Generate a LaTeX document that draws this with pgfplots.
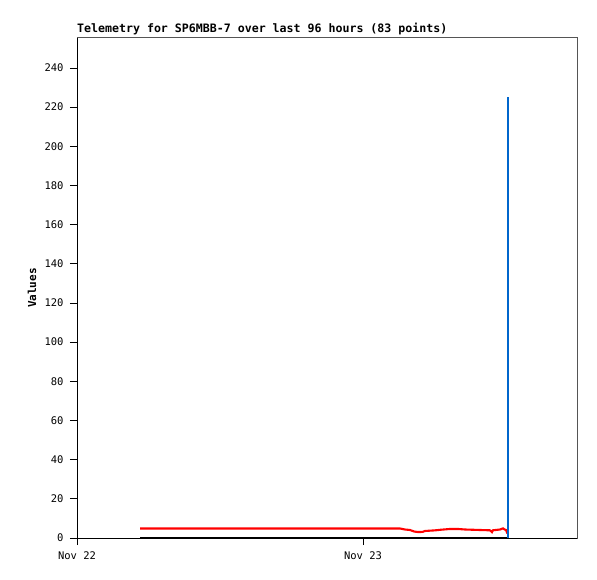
\documentclass[border=0pt]{standalone}
\usepackage{fontspec}
\setmainfont{DejaVu Sans Mono}
\usepackage{pgfplots}
\pgfplotsset{compat=1.18}
\definecolor{tblue}{HTML}{0066CC}
\definecolor{frame}{HTML}{555555}
\begin{document}
\begin{tikzpicture}[x=1pt,y=1pt]
\useasboundingbox (0,0) rectangle (597,579);
\begin{axis}[
  at={(77pt,41pt)}, anchor=south west,
  scale only axis, width=500pt, height=500pt,
  xmin=0, xmax=41.96, ymin=0, ymax=255.3,
  xtick={0,24}, xticklabels={Nov 22,Nov 23},
  ytick={0,20,...,240},
  tick align=outside, major tick length=7pt,
  xtick pos=bottom, ytick pos=left,
  tick style={black, line width=0.9pt},
  axis line style={frame, line width=1pt},
  /pgf/number format/assume math mode=true,
  tick label style={font=\fontsize{10.5}{12}\selectfont},
  xticklabel style={yshift=-3pt},
  yticklabel style={xshift=-3pt},
  clip=false,
]
\addplot[black, line width=2.2pt] coordinates {(5.29,0.2) (36.17,0.2)};
\addplot[red, line width=2.1pt] coordinates {
(5.29,4.85) (27.1,4.85) (27.52,4.34) (27.94,4.09) (28.3,3.3) (28.6,3.06) (29.0,3.1)
(29.2,3.58) (30.04,3.9) (30.5,4.2) (31.3,4.6) (32.0,4.6) (32.56,4.34) (33.8,4.09)
(34.66,3.93) (34.82,3.0) (34.9,3.93) (35.5,4.34) (35.75,4.9) (35.9,4.3) (36.0,4.1) (36.1,2.6) (36.17,2.4)};
\addplot[tblue, line width=1.8pt] coordinates {(36.17,0) (36.17,225)};
\draw[black, line width=1pt] (rel axis cs:0,1) -- (rel axis cs:0,0) -- (rel axis cs:1,0);
\node[anchor=south west, inner sep=0pt, font=\bfseries\fontsize{11.6}{13}\selectfont] at ([yshift=3pt]rel axis cs:0,1) {Telemetry for SP6MBB-7 over last 96 hours (83 points)};
\end{axis}
\node[rotate=90, font=\bfseries\fontsize{11}{13}\selectfont] at (32,291) {Values};
\end{tikzpicture}
\end{document}
